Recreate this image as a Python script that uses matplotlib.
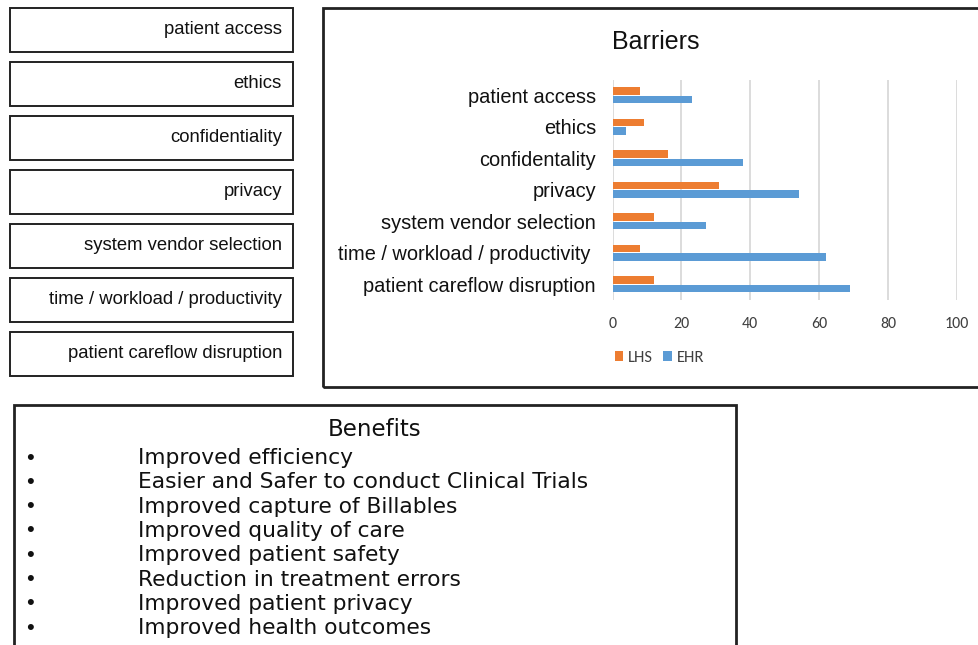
import matplotlib
matplotlib.use("Agg")
import matplotlib.pyplot as plt
from matplotlib.patches import Rectangle

# ---- data ----
categories = ["patient access", "ethics", "confidentality", "privacy",
              "system vendor selection", "time / workload / productivity ",
              "patient careflow disruption"]
lhs = [8, 9, 16, 31, 12, 8, 12]
ehr = [23, 4, 38, 54, 27, 62, 69]
series_names = ["LHS", "EHR"]
box_labels = ["patient access", "ethics", "confidentiality", "privacy",
              "system vendor selection", "time / workload / productivity",
              "patient careflow disruption"]
benefits = ["Improved efficiency",
            "Easier and Safer to conduct Clinical Trials",
            "Improved capture of Billables",
            "Improved quality of care",
            "Improved patient safety",
            "Reduction in treatment errors",
            "Improved patient privacy",
            "Improved health outcomes"]
x_ticks = [0, 20, 40, 60, 80, 100]

W, H = 979, 645
fig = plt.figure(figsize=(W / 100, H / 100), dpi=100)
fig.patch.set_facecolor("white")

def fx(px):
    return px / W

def fy(py):
    return 1 - py / H

def rect(x0, y0, x1, y1, lw=1.5, color="#222222"):
    fig.patches.append(Rectangle((fx(x0), fy(y1)), fx(x1) - fx(x0), fy(y0) - fy(y1),
                                 transform=fig.transFigure, fill=False,
                                 edgecolor=color, linewidth=lw, zorder=5))

sans = ["Liberation Sans", "DejaVu Sans"]
calibri = ["Carlito", "Liberation Sans", "DejaVu Sans"]
wide = ["DejaVu Sans"]

# ---- left boxes ----
box_tops = [8, 62, 116, 170, 224, 278, 332]
for lbl, t in zip(box_labels, box_tops):
    rect(10, t, 293, t + 44, lw=1.4)
    fig.text(fx(282), fy(t + 22), lbl, ha="right", va="center",
             fontsize=13.3, family=sans, color="#111111")

# ---- chart box ----
rect(323, 8, 990, 387, lw=2.0)

ax = fig.add_axes([fx(612.5), fy(300), fx(957) - fx(612.5), fy(79.5) - fy(300)])
n = len(categories)
pos = list(range(n))
off = 0.135
bh = 0.25
b1 = ax.barh([p - off for p in pos], lhs, height=bh, color="#ED7D31", label=series_names[0], zorder=3)
b2 = ax.barh([p + off for p in pos], ehr, height=bh, color="#5B9BD5", label=series_names[1], zorder=3)
ax.set_ylim(n - 0.5, -0.5)
ax.set_xlim(0, 100)
ax.set_yticks(pos)
ax.set_yticklabels(categories, fontsize=14.4, family=sans, color="#111111")
ax.set_xticks(x_ticks)
ax.set_xticklabels([str(v) for v in x_ticks], fontsize=11.5, family=calibri, color="#404040")
ax.tick_params(axis="both", length=0)
ax.tick_params(axis="x", pad=12)
ax.tick_params(axis="y", pad=11.9)
for s in ax.spines.values():
    s.set_visible(False)
ax.grid(axis="x", color="#D9D9D9", linewidth=1.3, zorder=0)
ax.set_axisbelow(True)

fig.text(fx(656), fy(42), "Barriers", ha="center", va="center",
         fontsize=18, family=sans, color="#111111")

fig.legend(handles=[b1, b2], labels=series_names, loc="center left",
           bbox_to_anchor=(fx(600), fy(358)), ncol=2, frameon=False,
           handlelength=0.5, handleheight=0.5, handletextpad=0.3,
           columnspacing=0.6, prop={"family": calibri, "size": 12},
           labelcolor="#404040")

# ---- benefits box ----
rect(14, 405, 736, 660, lw=2.0)
fig.text(fx(375), fy(430), "Benefits", ha="center", va="center",
         fontsize=16.5, family=wide, color="#111111")
for i, b in enumerate(benefits):
    y = 458 + i * 24.3
    fig.text(fx(30), fy(y), "\u2022", ha="center", va="center", fontsize=16, family=sans, color="#111111")
    fig.text(fx(138), fy(y), b, ha="left", va="center", fontsize=15.7, family=wide, color="#111111")

fig.savefig("out.png", dpi=100)
